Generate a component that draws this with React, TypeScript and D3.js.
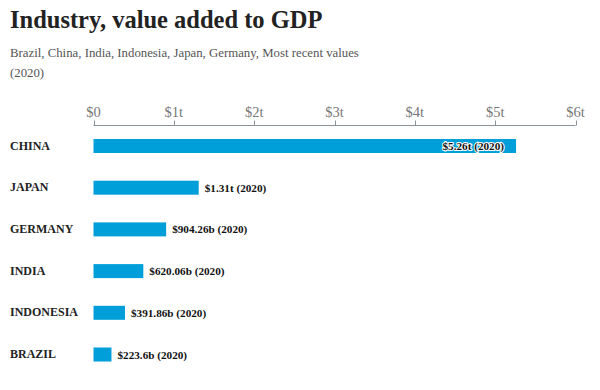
import React from "react";
import * as d3 from "d3";

const countries = ["CHINA", "JAPAN", "GERMANY", "INDIA", "INDONESIA", "BRAZIL"];
const values = [5.26, 1.31, 0.90426, 0.62006, 0.39186, 0.2236];
const valueLabels = ["$5.26t (2020)", "$1.31t (2020)", "$904.26b (2020)", "$620.06b (2020)", "$391.86b (2020)", "$223.6b (2020)"];
const tickValues = [0, 1, 2, 3, 4, 5, 6];
const tickLabels = ["$0", "$1t", "$2t", "$3t", "$4t", "$5t", "$6t"];

const FONT = "'Liberation Serif', 'Times New Roman', serif";
const BAR = "#009fda";

export default function App() {
  const width = 600;
  const height = 390;
  const x = d3.scaleLinear().domain([0, 6]).range([93.5, 575.5]);
  const y = d3.scalePoint<string>().domain(countries).range([146, 354.5]);
  const barH = 14;
  const axisY = 125.5;

  return (
    <svg width={width} height={height} style={{ position: "absolute", left: 0, top: 0, background: "#fff" }} fontFamily={FONT}>
      <text x={10} y={28} fontSize={24.5} fontWeight="bold" fill="#222">Industry, value added to GDP</text>
      <text x={10} y={57} fontSize={12.8} fill="#555">Brazil, China, India, Indonesia, Japan, Germany, Most recent values</text>
      <text x={10} y={77} fontSize={12.8} fill="#555">(2020)</text>

      <line x1={x(0)} x2={x(6)} y1={axisY} y2={axisY} stroke="#8a9299" strokeWidth={1} />
      {tickValues.map((t, i) => (
        <g key={t}>
          <line x1={Math.round(x(t)) + 0.5} x2={Math.round(x(t)) + 0.5} y1={axisY} y2={axisY - 5} stroke="#8a9299" />
          <text x={x(t)} y={117} fontSize={14.5} fill="#777" textAnchor="middle">{tickLabels[i]}</text>
        </g>
      ))}

      {countries.map((c, i) => {
        const cy = y(c) as number;
        const w = x(values[i]) - x(0);
        const inside = i === 0;
        return (
          <g key={c}>
            <text x={10} y={cy + 3.5} fontSize={12} fontWeight="bold" fill="#222">{c}</text>
            <rect x={x(0)} y={cy - barH / 2} width={w} height={barH} fill={BAR} />
            {inside ? (
              <text x={x(values[i]) - 12} y={cy + 4} fontSize={11.2} fontWeight="bold" fill="#111" textAnchor="end"
                stroke="#fff" strokeWidth={2} paintOrder="stroke" strokeLinejoin="round">{valueLabels[i]}</text>
            ) : (
              <text x={x(values[i]) + 6} y={cy + 4} fontSize={11.2} fontWeight="bold" fill="#111">{valueLabels[i]}</text>
            )}
          </g>
        );
      })}
    </svg>
  );
}
